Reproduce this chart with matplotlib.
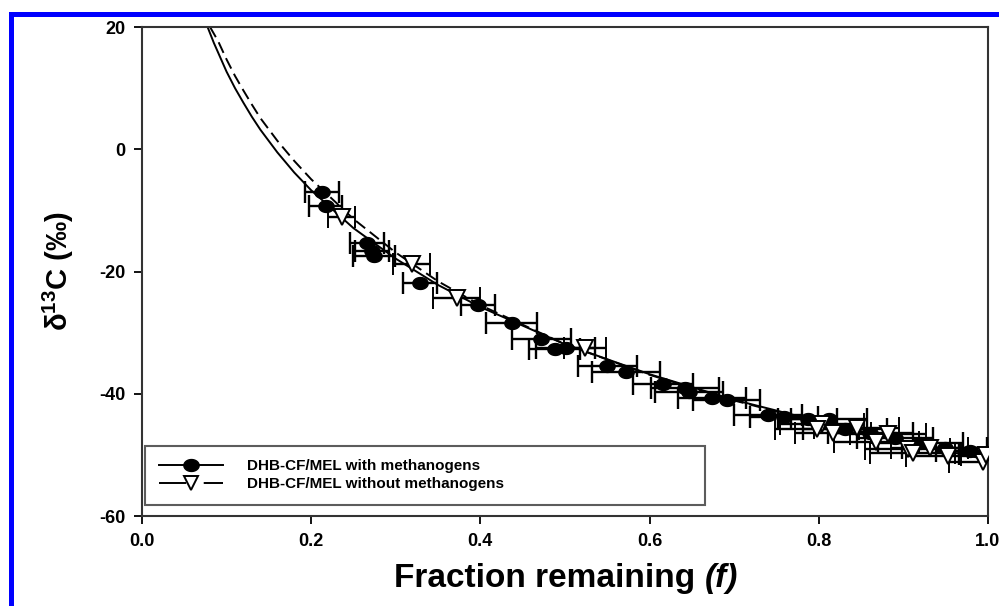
import numpy as np
import matplotlib
matplotlib.use("Agg")
import matplotlib.pyplot as plt
from matplotlib.lines import Line2D
from matplotlib.patches import Rectangle

# fonts: Arial-like bold everywhere
plt.rcParams['font.family'] = ['Liberation Sans', 'DejaVu Sans']
plt.rcParams['font.weight'] = 'bold'
plt.rcParams['mathtext.fontset'] = 'custom'
plt.rcParams['mathtext.rm'] = 'Liberation Sans:bold'
plt.rcParams['mathtext.bf'] = 'Liberation Sans:bold'
plt.rcParams['mathtext.it'] = 'Liberation Sans:bold:italic'
plt.rcParams['axes.unicode_minus'] = False

# DHB-CF/MEL with methanogens (filled circles)
f_with = [0.213, 0.217, 0.266, 0.272, 0.274, 0.329, 0.397, 0.437, 0.472, 0.488,
          0.501, 0.550, 0.572, 0.616, 0.642, 0.647, 0.674, 0.691, 0.740, 0.759,
          0.787, 0.812, 0.831, 0.861, 0.890, 0.920, 0.949, 0.979, 0.996]
d_with = [-7.0, -9.2, -15.4, -16.6, -17.4, -21.8, -25.4, -28.5, -31.1, -32.6,
          -32.5, -35.4, -36.4, -38.4, -39.0, -39.7, -40.7, -41.0, -43.4, -43.8,
          -44.1, -44.1, -45.7, -46.4, -47.2, -48.0, -48.9, -49.3, -49.8]
ferr_with = [0.02, 0.02, 0.02, 0.02, 0.025, 0.02, 0.02, 0.03, 0.035, 0.03,
             0.035, 0.035, 0.04, 0.035, 0.04, 0.04, 0.04, 0.04, 0.04, 0.04,
             0.035, 0.045, 0.05, 0.05, 0.045, 0.05, 0.05, 0.04, 0.03]

# DHB-CF/MEL without methanogens (open triangles)
f_without = [0.236, 0.319, 0.372, 0.524, 0.804, 0.798, 0.817, 0.845, 0.868,
             0.882, 0.905, 0.911, 0.931, 0.953, 0.994, 0.998]
d_without = [-11.0, -18.7, -24.4, -32.5, -44.9, -45.7, -46.4, -45.6, -47.9,
             -46.6, -49.0, -49.7, -48.9, -50.2, -51.1, -50.0]
ferr_without = [0.016, 0.022, 0.028, 0.025, 0.05, 0.05, 0.045, 0.05, 0.05,
                0.045, 0.05, 0.05, 0.045, 0.05, 0.04, 0.03]

# Rayleigh fit curves
fit_f_with = [0.075, 0.085, 0.10, 0.11, 0.12, 0.13, 0.14, 0.16, 0.18, 0.20,
              0.25, 0.30, 0.35, 0.40, 0.50, 0.60, 0.70, 0.80, 0.90, 1.00]
fit_d_with = [20.9, 17.4, 12.7, 10.0, 7.6, 5.3, 3.2, -0.5, -3.8, -6.7,
              -12.9, -17.9, -22.2, -25.8, -31.9, -36.8, -41.0, -44.5, -47.7, -50.5]
fit_f_without = [0.0805, 0.09, 0.10, 0.11, 0.12, 0.13, 0.14, 0.16, 0.18, 0.20,
                 0.25, 0.30, 0.35, 0.40, 0.50, 0.60, 0.70, 0.80, 0.90, 1.00]
fit_d_without = [20.0, 17.7, 14.7, 12.0, 9.6, 7.3, 5.1, 1.4, -1.9, -4.9,
                 -11.4, -16.9, -21.6, -25.5, -31.9, -36.9, -41.1, -44.7, -47.9, -50.8]

xticks = [0.0, 0.2, 0.4, 0.6, 0.8, 1.0]
yticks = [20, 0, -20, -40, -60]

# slightly flattened dot, like the original scan
th = np.linspace(0, 2 * np.pi, 41)
oval = list(zip(np.cos(th), 0.78 * np.sin(th)))

fig = plt.figure(figsize=(9.99, 6.06), dpi=100)
ax = fig.add_axes([0.1421, 0.1485, 0.8468, 0.8069])

ax.plot(fit_f_with, fit_d_with, color='black', lw=1.4, zorder=2)
dl, = ax.plot(fit_f_without, fit_d_without, color='black', lw=1.4, zorder=2)
dl.set_dashes([6, 3])

ax.errorbar(f_with, d_with, xerr=ferr_with, fmt='none', ecolor='black',
            capsize=8, elinewidth=1.7, capthick=1.7, zorder=3)
ax.plot(f_with, d_with, ls='none', marker=oval, color='black', ms=11, zorder=3)
ax.errorbar(f_without, d_without, xerr=ferr_without, fmt='v', color='black',
            mfc='white', mec='black', mew=1.4, ms=11,
            capsize=8, elinewidth=1.7, capthick=1.7, zorder=4)

ax.set_xlim(0, 1.0)
ax.set_ylim(-60, 20)
ax.set_xticks(xticks)
ax.set_xticklabels([f"{t:.1f}" for t in xticks])
ax.set_yticks(yticks)
ax.tick_params(direction='out', length=6, width=1.3, labelsize=13, pad=6,
               top=False, right=False)
for s in ax.spines.values():
    s.set_linewidth(1.5)
    s.set_color('#333333')

ax.set_ylabel('δ$^{13}$C (‰)', fontsize=21, fontweight='bold')
ax.yaxis.set_label_coords(-0.078, 0.5)

t1 = fig.text(0.5, 0.046, 'Fraction remaining ', fontsize=24,
              fontweight='bold', va='center', ha='left')
t2 = ax.annotate('(f)', xy=(1, 0), xycoords=t1, va='bottom', ha='left',
                 fontsize=24, fontweight='bold', fontstyle='italic')
fig.canvas.draw()
r = fig.canvas.get_renderer()
b1 = t1.get_window_extent(r)
b2 = t2.get_window_extent(r)
total = b2.x1 - b1.x0
t1.set_x((566 - total / 2) / 999)

h1 = Line2D([], [], color='black', lw=1.4, marker=oval, ms=11)
h2 = Line2D([], [], color='black', lw=1.4, marker='v', ms=10,
            mfc='white', mec='black', mew=1.4)
h2.set_dashes([14, 9])
leg = ax.legend([h1, h2], ['DHB-CF/MEL with methanogens',
                           'DHB-CF/MEL without methanogens'],
                loc='lower left', bbox_to_anchor=(0.0035, 0.0225, 0.6615, 0.13),
                mode='expand', fontsize=11, frameon=True, fancybox=False,
                handlelength=4.2, handletextpad=1.6, borderpad=0.9,
                labelspacing=0.25, borderaxespad=0, numpoints=1)
leg.get_frame().set_edgecolor('#333333')
leg.get_frame().set_linewidth(1.5)

# blue frame at the left and top of the picture
fig.add_artist(Rectangle((9 / 999, 0), 5 / 999, (606 - 12) / 606,
                         transform=fig.transFigure, facecolor='#0000ff',
                         edgecolor='none'))
fig.add_artist(Rectangle((9 / 999, 1 - 17 / 606), 990 / 999, 5 / 606,
                         transform=fig.transFigure, facecolor='#0000ff',
                         edgecolor='none'))

fig.savefig('out.png', dpi=100)
